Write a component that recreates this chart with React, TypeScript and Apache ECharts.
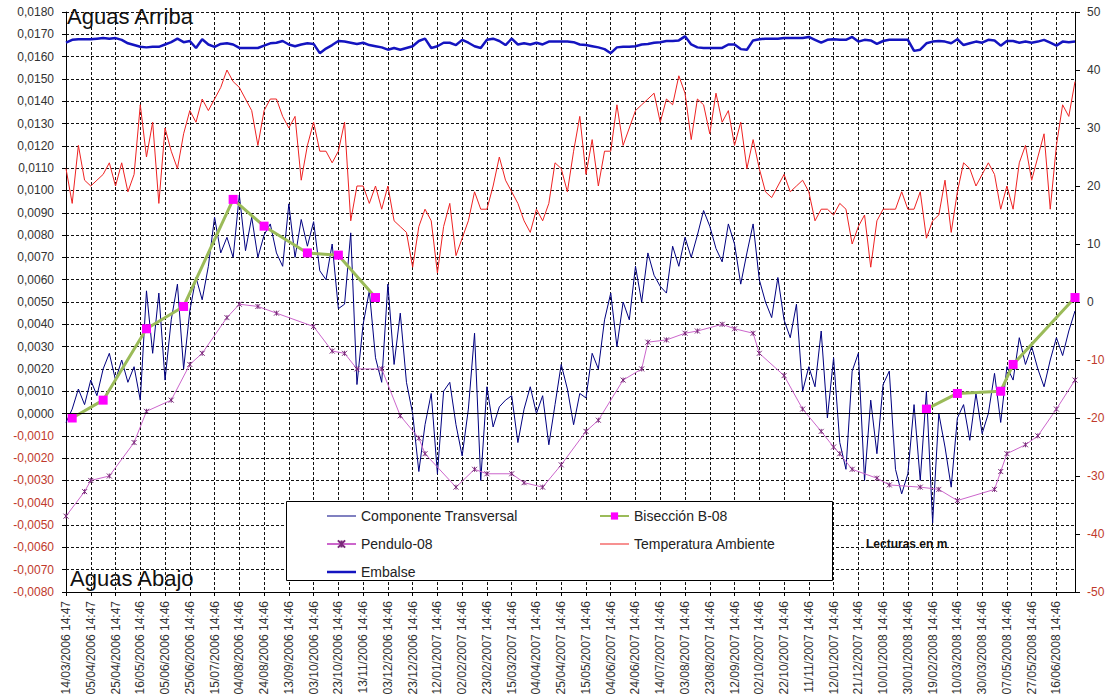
import React, { useEffect, useRef } from 'react';
import * as echarts from 'echarts';

// 41 date tick labels, one every 4 categories (each category ~5 days)
const tickLabels = [
  '14/03/2006 14:47', '05/04/2006 14:47', '25/04/2006 14:47', '16/05/2006 14:46', '05/06/2006 14:46',
  '25/06/2006 14:46', '15/07/2006 14:46', '04/08/2006 14:46', '24/08/2006 14:46', '13/09/2006 14:46',
  '03/10/2006 14:46', '23/10/2006 14:46', '13/11/2006 14:46', '03/12/2006 14:46', '23/12/2006 14:46',
  '12/01/2007 14:46', '02/02/2007 14:46', '23/02/2007 14:46', '15/03/2007 14:46', '04/04/2007 14:46',
  '25/04/2007 14:46', '15/05/2007 14:46', '04/06/2007 14:46', '24/06/2007 14:46', '14/07/2007 14:46',
  '03/08/2007 14:46', '23/08/2007 14:46', '12/09/2007 14:46', '02/10/2007 14:46', '22/10/2007 14:46',
  '11/11/2007 14:46', '12/01/2007 14:46', '21/12/2007 14:46', '10/01/2008 14:46', '30/01/2008 14:46',
  '19/02/2008 14:46', '10/03/2008 14:46', '30/03/2008 14:46', '07/05/2008 14:46', '27/05/2008 14:46',
  '16/06/2008 14:46',
];
const CATS_PER_TICK = 4;

// Componente Transversal (m, left axis)
const componenteTransversal = [
  -0.0004, 0.0002, 0.0011, 0.0004, 0.0015, 0.0008, 0.0020, 0.0027, 0.0015, 0.0024, 0.0014, 0.0021, 0.0006, 0.0055,
  0.0027, 0.0054, 0.0015, 0.0042, 0.0058, 0.0020, 0.0046, 0.0061, 0.0051, 0.0066, 0.0088, 0.0072, 0.0079, 0.0070,
  0.0098, 0.0073, 0.0088, 0.0070, 0.0080, 0.0085, 0.0072, 0.0066, 0.0094, 0.0070, 0.0087, 0.0075, 0.0086, 0.0064,
  0.0060, 0.0076, 0.0047, 0.0049, 0.0081, 0.0013, 0.0040, 0.0055, 0.0025, 0.0014, 0.0058, 0.0022, 0.0045,
  0.0014, 0.0000, -0.0026, -0.0005, 0.0009, -0.0027, 0.0010, 0.0014, -0.0005, -0.0019, 0.0002, 0.0036, -0.0030,
  0.0012, -0.0006, 0.0003, 0.0006, 0.0008, -0.0013, 0.0002, 0.0012, 0.0000, 0.0008, -0.0014, 0.0004, 0.0022, 0.0011,
  -0.0005, 0.0009, 0.0007, 0.0027, 0.0020, 0.0042, 0.0054, 0.0030, 0.0050, 0.0042, 0.0066, 0.0050, 0.0072, 0.0062,
  0.0057, 0.0054, 0.0075, 0.0066, 0.0079, 0.0070, 0.0080, 0.0091, 0.0084, 0.0074, 0.0068, 0.0085, 0.0076,
  0.0058, 0.0072, 0.0085, 0.0060, 0.0050, 0.0043, 0.0061, 0.0042, 0.0034, 0.0049, 0.0010, 0.0021, 0.0012, 0.0037,
  -0.0002, 0.0025, -0.0013, -0.0025, 0.0019, 0.0027, -0.0030, 0.0006, -0.0018, 0.0013, 0.0019, -0.0025, -0.0036,
  -0.0027, 0.0004, -0.0030, 0.0010, -0.0049, 0.0000, -0.0015, -0.0033, -0.0002, 0.0004, -0.0012, 0.0009, -0.0009,
  0.0000, 0.0018, -0.0004, 0.0021, 0.0015, 0.0034, 0.0022, 0.0030, 0.0020, 0.0012, 0.0024, 0.0034, 0.0026, 0.0037, 0.0046,
];

// Temperatura Ambiente (ºC, right axis)
const temperatura = [
  23, 17, 27, 21, 20, 21, 22, 24, 20, 24, 19, 22, 34, 25, 31, 17, 30, 26, 23, 29, 33, 31, 35, 33, 35, 37, 40, 38,
  37, 35, 33, 27, 33, 35, 35, 32, 30, 32, 21, 27, 31, 26, 26, 24, 26, 31, 14, 20, 20, 17, 20, 16, 20, 14, 13,
  12, 6, 13, 16, 14, 5, 13, 17, 8, 11, 14, 19, 16, 16, 20, 25, 21, 19, 17, 14, 12, 16, 14, 17, 24, 23, 19,
  26, 32, 22, 28, 20, 26, 26, 34, 27, 30, 33, 34, 35, 36, 31, 35, 34, 39, 36, 28, 35, 34, 29, 36, 31, 33, 27,
  31, 23, 28, 23, 19, 18, 20, 22, 19, 20, 21, 19, 14, 16, 16, 15, 17, 16, 10, 13, 15, 6, 14, 16, 16, 16, 19,
  16, 16, 19, 11, 14, 15, 21, 12, 19, 24, 23, 20, 22, 24, 22, 16, 20, 16, 24, 27, 21, 25, 29, 16, 27, 34, 32, 38,
];

// Embalse (right axis)
const embalse = [
  44.7, 45.2, 45.3, 45.3, 45.3, 45.4, 45.5, 45.4, 45.5, 45.2, 44.6, 44.3, 44.0, 43.9, 44.0, 44.0, 44.4, 44.8, 45.4, 44.8,
  45.0, 43.8, 45.3, 44.4, 44.0, 44.5, 44.6, 44.4,
  43.8, 43.8, 43.8, 43.8, 44.2, 44.6, 44.7, 45.0, 44.4, 44.1, 44.4, 44.6, 44.5, 42.9, 43.7, 44.3, 45.0, 44.9, 44.7, 44.5,
  44.7, 44.3, 44.1, 43.9, 43.5, 43.8, 43.5,
  43.8, 44.1, 45.0, 45.4, 43.8, 44.1, 44.7, 44.7, 44.3, 45.2, 44.7, 44.1, 43.8, 45.2, 45.4, 45.0, 44.3, 45.4, 44.4, 44.6,
  44.4, 44.7, 44.4, 44.9, 44.9, 44.9, 44.9,
  44.8, 44.4, 44.3, 44.1, 43.9, 43.6, 42.9, 43.9, 44.0, 44.0, 44.1, 44.4, 44.5, 44.7, 44.8, 45.0, 45.0, 45.1, 45.8, 44.4,
  43.9, 43.8, 43.8, 43.8, 43.8, 44.4, 44.4,
  43.6, 43.5, 45.1, 45.3, 45.4, 45.4, 45.4, 45.5, 45.5, 45.5, 45.5, 45.7, 45.2, 44.7, 45.2, 45.3, 45.2, 45.2, 45.7, 44.9,
  45.2, 45.1, 44.5, 45.0, 45.2, 45.2, 45.2,
  45.2, 43.3, 43.5, 44.6, 44.9, 45.0, 44.9, 44.6, 45.3, 44.3, 44.6, 44.9, 44.7, 45.2, 45.1, 44.2, 45.0, 45.0, 44.7, 44.9,
  44.7, 44.9, 45.2, 44.7, 44.2, 44.9, 44.8, 44.9,
];

// Pendulo-08 readings (category index, value in m)
const penduloIdx = [
  0, 3, 4, 7, 11, 13, 17, 20, 22, 26, 28, 31, 34, 40, 43, 45, 47, 51, 54, 57, 58, 63, 66, 68, 72, 74, 77, 80, 84, 86,
  90, 93, 94, 97, 100, 102, 106, 108, 111, 112, 116, 119, 122, 124, 125, 127, 131, 133, 138, 141, 144, 150, 151, 152,
  155, 157, 160, 163,
];
const penduloVal = [
  -0.0046, -0.0035, -0.0030, -0.0028, -0.0013, 0.0001, 0.0006, 0.0022, 0.0027, 0.0043, 0.0049, 0.0048, 0.0045, 0.0039,
  0.0028, 0.0027, 0.0020, 0.0020, -0.0001, -0.0011, -0.0018, -0.0033, -0.0025, -0.0027, -0.0027, -0.0031, -0.0033,
  -0.0023, -0.0008, -0.0003, 0.0015, 0.0020, 0.0032, 0.0033, 0.0036, 0.0037, 0.0040, 0.0038, 0.0036, 0.0027, 0.0017,
  0.0002, -0.0008, -0.0015, -0.0018, -0.0025, -0.0029, -0.0032, -0.0033, -0.0034, -0.0039, -0.0034, -0.0026, -0.0018,
  -0.0014, -0.0010, 0.0002, 0.0015,
];

// Bisección B-08 (two campaigns)
const biseccionIdxA = [1, 6, 13, 19, 27, 32, 39, 44, 50];
const biseccionValA = [-0.0002, 0.0006, 0.0038, 0.0048, 0.0096, 0.0084, 0.0072, 0.0071, 0.0052];
const biseccionIdxB = [139, 144, 151, 153, 163];
const biseccionValB = [0.0002, 0.0009, 0.0010, 0.0022, 0.0052];

const FONT = "'Liberation Sans', Arial, Helvetica, sans-serif";
const NEG = '#C0392B';
const C_CT = '#000080';
const C_TEMP = '#EE2222';
const C_EMB = '#1414C0';

export default function App() {
  const ref = useRef<HTMLDivElement>(null);

  useEffect(() => {
    if (!ref.current) return;
    const chart = echarts.init(ref.current, null, { renderer: 'svg' });
    const n = componenteTransversal.length;
    const categories = Array.from({ length: n }, (_, i) => String(i));
    const pair = (idx: number[], val: number[]) => idx.map((x, k) => [x, val[k]]);
    const pendIcon = 'path://M0,0L10,10M10,0L0,10M5,0L5,10';
    const thinLine = 'path://M0,0L29,0L29,1L0,1Z';
    const thickLine = 'path://M0,0L29,0L29,2.5L0,2.5Z';
    const bisStyle = {
      type: 'line',
      name: 'Bisección B-08',
      yAxisIndex: 0,
      symbol: 'rect',
      symbolSize: 9,
      showSymbol: true,
      showAllSymbol: true,
      lineStyle: { color: '#9BBB59', width: 3 },
      itemStyle: { color: '#FF00FF' },
      z: 4,
    };
    const legendBase = {
      top: 509,
      orient: 'vertical',
      padding: 0,
      itemGap: 14,
      itemWidth: 29,
      itemHeight: 9,
      selectedMode: false,
      z: 10,
      textStyle: { fontSize: 14, color: '#222', fontFamily: FONT },
    };
    chart.setOption({
      animation: false,
      backgroundColor: '#ffffff',
      textStyle: { fontFamily: FONT },
      grid: { left: 66, right: 37, top: 12, bottom: 108, containLabel: false },
      xAxis: {
        type: 'category',
        data: categories,
        boundaryGap: false,
        axisLine: { onZero: false, lineStyle: { color: '#000', width: 1 } },
        axisTick: { show: true, interval: CATS_PER_TICK - 1, length: 4, lineStyle: { color: '#000' } },
        axisLabel: {
          interval: CATS_PER_TICK - 1,
          rotate: 90,
          margin: 9,
          fontSize: 12,
          color: '#333',
          fontFamily: FONT,
          formatter: (_v: string, idx: number) => tickLabels[idx / CATS_PER_TICK] ?? '',
        },
        splitLine: {
          show: true,
          interval: CATS_PER_TICK - 1,
          lineStyle: { color: '#111', type: [3, 2], width: 1 },
        },
      },
      yAxis: [
        {
          type: 'value',
          position: 'left',
          min: -0.008,
          max: 0.018,
          interval: 0.001,
          axisLine: { show: true, lineStyle: { color: '#000', width: 1 } },
          axisTick: { show: true, length: 4, lineStyle: { color: '#000' } },
          axisLabel: {
            fontSize: 12,
            margin: 12,
            fontFamily: FONT,
            formatter: (v: number) => v.toFixed(4).replace('.', ','),
            color: (v: any) => (Number(v) < -1e-9 ? NEG : '#333'),
          },
          splitLine: { show: true, lineStyle: { color: '#111', type: [3, 2], width: 1 } },
        },
        {
          type: 'value',
          position: 'right',
          min: -50,
          max: 50,
          interval: 10,
          axisLine: { show: true, lineStyle: { color: '#000', width: 1 } },
          axisTick: { show: true, length: 5, lineStyle: { color: '#000' } },
          axisLabel: {
            fontSize: 12,
            margin: 12,
            fontFamily: FONT,
            color: (v: any) => (Number(v) < 0 ? NEG : '#333'),
          },
          splitLine: { show: false },
        },
      ],
      legend: [
        {
          ...legendBase,
          left: 326,
          data: [
            { name: 'Componente Transversal', icon: thinLine },
            { name: 'Pendulo-08' },
            { name: 'Embalse', icon: thickLine },
          ],
        },
        {
          ...legendBase,
          left: 599,
          data: [{ name: 'Bisección B-08' }, { name: 'Temperatura Ambiente', icon: thinLine }],
        },
      ],
      graphic: [
        {
          type: 'rect',
          z: 8,
          shape: { x: 286.5, y: 501.5, width: 546, height: 79 },
          style: { fill: '#ffffff', stroke: '#000', lineWidth: 1 },
        },
        {
          type: 'text',
          z: 9,
          left: 67,
          top: 5,
          style: { text: 'Aguas Arriba', fontSize: 22, fontFamily: FONT, fill: '#111' },
        },
        {
          type: 'text',
          z: 9,
          left: 70,
          top: 567,
          style: { text: 'Aguas Abajo', fontSize: 22, fontFamily: FONT, fill: '#111' },
        },
        {
          type: 'text',
          z: 9,
          left: 866,
          top: 538,
          style: { text: 'Lecturas en m', fontSize: 12, fontWeight: 'bold', fontFamily: FONT, fill: '#111' },
        },
      ],
      series: [
        {
          type: 'line',
          name: 'Componente Transversal',
          yAxisIndex: 0,
          data: componenteTransversal,
          symbol: 'none',
          showSymbol: false,
          lineStyle: { color: C_CT, width: 1 },
          itemStyle: { color: C_CT },
          z: 2,
          markLine: {
            silent: true,
            symbol: 'none',
            label: { show: false },
            lineStyle: { color: '#000', type: 'solid', width: 1 },
            data: [{ yAxis: 0 }],
          },
        },
        { ...bisStyle, data: pair(biseccionIdxA, biseccionValA) },
        { ...bisStyle, data: pair(biseccionIdxB, biseccionValB) },
        {
          type: 'line',
          name: 'Pendulo-08',
          yAxisIndex: 0,
          data: pair(penduloIdx, penduloVal),
          symbol: pendIcon,
          symbolSize: 5,
          showSymbol: true,
          showAllSymbol: true,
          lineStyle: { color: '#CC66CC', width: 1 },
          itemStyle: { color: '#CC66CC', borderColor: '#7A2A7A', borderWidth: 1 },
          z: 3,
        },
        {
          type: 'line',
          name: 'Temperatura Ambiente',
          yAxisIndex: 1,
          data: temperatura,
          symbol: 'none',
          showSymbol: false,
          lineStyle: { color: C_TEMP, width: 1 },
          itemStyle: { color: C_TEMP },
          z: 2,
        },
        {
          type: 'line',
          name: 'Embalse',
          yAxisIndex: 1,
          data: embalse,
          symbol: 'none',
          showSymbol: false,
          lineStyle: { color: C_EMB, width: 2.5 },
          itemStyle: { color: C_EMB },
          z: 3,
        },
      ],
    });
    return () => chart.dispose();
  }, []);

  return (
    <div
      ref={ref}
      style={{ position: 'fixed', left: 0, top: 0, width: 1112, height: 700, background: '#fff' }}
    />
  );
}
